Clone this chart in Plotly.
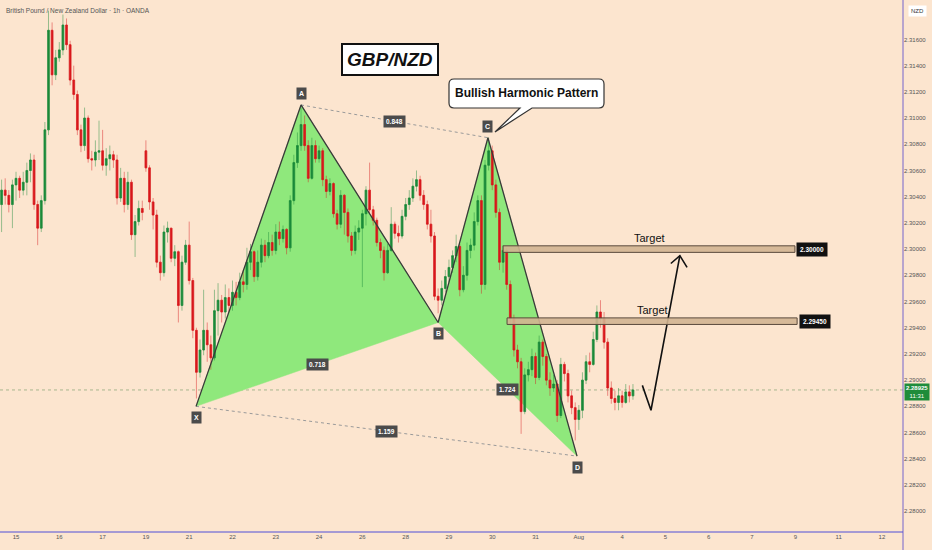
import plotly.graph_objects as go

# GBP/NZD, bars (one bar ~ 2h)
opens = [
    2.3034, 2.3045, 2.3041, 2.3034, 2.3049, 2.3054, 2.3045, 2.3051, 2.3060, 2.3068,
    2.3034, 2.3016, 2.3037, 2.3091, 2.3167, 2.3133, 2.3146, 2.3152, 2.3171, 2.3156,
    2.3129, 2.3118, 2.3091, 2.3079, 2.3100, 2.3069, 2.3068, 2.3074, 2.3075, 2.3064,
    2.3069, 2.3072, 2.3068, 2.3039, 2.3054, 2.3034, 2.3051, 2.3011, 2.3021, 2.3031,
    2.3075, 2.3062, 2.3036, 2.3026, 2.2990, 2.2982, 2.3013, 2.3016, 2.2993, 2.2998,
    2.2957, 2.2990, 2.3003, 2.2976, 2.2938, 2.2906, 2.2923, 2.2938, 2.2927, 2.2917,
    2.2953, 2.2961, 2.2952, 2.2963, 2.2957, 2.2967, 2.2963, 2.2975, 2.2973, 2.2990,
    2.2998, 2.2979, 2.2990, 2.3003, 2.2995, 2.3005, 2.2999, 2.3013, 2.3008, 2.3015,
    2.3001, 2.3037, 2.3066, 2.3079, 2.3095, 2.3079, 2.3054, 2.3079, 2.3069, 2.3075,
    2.3053, 2.3044, 2.3050, 2.3027, 2.3019, 2.3041, 2.3028, 2.3010, 2.2999, 2.3013,
    2.3016, 2.3027, 2.3045, 2.3030, 2.3022, 2.3005, 2.2999, 2.2982, 2.2999, 2.3019,
    2.3012, 2.3010, 2.3025, 2.3034, 2.3039, 2.3048, 2.3053, 2.3041, 2.3034, 2.3019,
    2.3010, 2.2964, 2.2961, 2.2970, 2.2979, 2.2986, 2.2995, 2.3002, 2.2969, 2.2980,
    2.2999, 2.3003, 2.3021, 2.3037, 2.2973, 2.3064, 2.3075, 2.3049, 2.3028, 2.2990,
    2.2999, 2.2973, 2.2947, 2.2923, 2.2914, 2.2876, 2.2904, 2.2908, 2.2918, 2.2902,
    2.2929, 2.2918, 2.2900, 2.2894, 2.2897, 2.2873, 2.2912, 2.2905, 2.2888, 2.2879,
    2.2870, 2.2877, 2.2900, 2.2914, 2.2912, 2.2931, 2.2952, 2.2947, 2.2929, 2.2894,
    2.2886, 2.2883, 2.2888, 2.2883, 2.2891, 2.2888,
]
highs = [
    2.3053, 2.3054, 2.3045, 2.3053, 2.3059, 2.3056, 2.3059, 2.3066, 2.3073, 2.3072,
    2.3037, 2.3041, 2.3097, 2.3182, 2.3173, 2.3152, 2.3158, 2.3179, 2.3176, 2.3159,
    2.3140, 2.3121, 2.3095, 2.3108, 2.3102, 2.3075, 2.3083, 2.3098, 2.3091, 2.3077,
    2.3079, 2.3075, 2.3072, 2.3062, 2.3059, 2.3059, 2.3053, 2.3026, 2.3037, 2.3037,
    2.3083, 2.3064, 2.3039, 2.3030, 2.2995, 2.3018, 2.3021, 2.3016, 2.3003, 2.2999,
    2.2995, 2.3007, 2.3021, 2.2978, 2.2940, 2.2931, 2.2969, 2.2944, 2.2934, 2.2969,
    2.2974, 2.2965, 2.2973, 2.2970, 2.2976, 2.2975, 2.2982, 2.2984, 2.3001, 2.3004,
    2.2999, 2.2999, 2.3008, 2.3007, 2.3013, 2.3011, 2.3019, 2.3021, 2.3018, 2.3016,
    2.3041, 2.3072, 2.3089, 2.3108, 2.3102, 2.3083, 2.3085, 2.3083, 2.3079, 2.3077,
    2.3056, 2.3054, 2.3051, 2.3030, 2.3045, 2.3042, 2.3031, 2.3013, 2.3018, 2.3022,
    2.3030, 2.3048, 2.3066, 2.3033, 2.3024, 2.3008, 2.3002, 2.3004, 2.3032, 2.3021,
    2.3018, 2.3030, 2.3039, 2.3045, 2.3054, 2.3060, 2.3056, 2.3045, 2.3037, 2.3030,
    2.3013, 2.2970, 2.2976, 2.2984, 2.2992, 2.2999, 2.3011, 2.3004, 2.2987, 2.3005,
    2.3008, 2.3028, 2.3041, 2.3041, 2.3068, 2.3085, 2.3079, 2.3053, 2.3031, 2.3003,
    2.3001, 2.2976, 2.2950, 2.2927, 2.2917, 2.2909, 2.2914, 2.2924, 2.2921, 2.2934,
    2.2931, 2.2920, 2.2906, 2.2904, 2.2900, 2.2917, 2.2914, 2.2908, 2.2892, 2.2883,
    2.2881, 2.2906, 2.2919, 2.2921, 2.2937, 2.2957, 2.2961, 2.2952, 2.2932, 2.2899,
    2.2892, 2.2894, 2.2892, 2.2897, 2.2896, 2.2897,
]
lows = [
    2.3013, 2.3034, 2.3028, 2.3016, 2.3037, 2.3039, 2.3041, 2.3041, 2.3051, 2.3030,
    2.3003, 2.3013, 2.3034, 2.3087, 2.3125, 2.3129, 2.3143, 2.3148, 2.3152, 2.3125,
    2.3114, 2.3087, 2.3074, 2.3075, 2.3066, 2.3060, 2.3063, 2.3068, 2.3060, 2.3056,
    2.3060, 2.3062, 2.3034, 2.3036, 2.3028, 2.3030, 2.3007, 2.2994, 2.3018, 2.3022,
    2.3059, 2.3030, 2.3015, 2.2986, 2.2976, 2.2979, 2.3005, 2.2990, 2.2987, 2.2944,
    2.2953, 2.2988, 2.2973, 2.2932, 2.2886, 2.2902, 2.2919, 2.2914, 2.2908, 2.2915,
    2.2934, 2.2944, 2.2947, 2.2952, 2.2953, 2.2957, 2.2961, 2.2967, 2.2969, 2.2984,
    2.2975, 2.2976, 2.2986, 2.2990, 2.2993, 2.2995, 2.2996, 2.3003, 2.3005, 2.2996,
    2.2998, 2.3034, 2.3062, 2.3075, 2.3075, 2.3051, 2.3053, 2.3066, 2.3066, 2.3048,
    2.3039, 2.3041, 2.3024, 2.3015, 2.3016, 2.3011, 2.3005, 2.2995, 2.2996, 2.3007,
    2.2971, 2.3018, 2.3027, 2.3018, 2.3002, 2.2993, 2.2976, 2.2981, 2.2998, 2.3008,
    2.3005, 2.3008, 2.3022, 2.3030, 2.3036, 2.3044, 2.3037, 2.3030, 2.3015, 2.3005,
    2.2961, 2.2951, 2.2957, 2.2967, 2.2975, 2.2982, 2.2990, 2.2964, 2.2967, 2.2976,
    2.2993, 2.2999, 2.3018, 2.2966, 2.2969, 2.3060, 2.3045, 2.3024, 2.2984, 2.2982,
    2.2969, 2.2942, 2.2918, 2.2909, 2.2859, 2.2874, 2.2899, 2.2903, 2.2897, 2.2900,
    2.2911, 2.2896, 2.2888, 2.2891, 2.2868, 2.2871, 2.2899, 2.2883, 2.2874, 2.2854,
    2.2862, 2.2871, 2.2897, 2.2906, 2.2911, 2.2929, 2.2940, 2.2924, 2.2888, 2.2882,
    2.2877, 2.2877, 2.2879, 2.2882, 2.2883, 2.2885,
]
closes = [
    2.3045, 2.3041, 2.3034, 2.3049, 2.3054, 2.3045, 2.3051, 2.3060, 2.3068, 2.3034,
    2.3016, 2.3037, 2.3091, 2.3167, 2.3133, 2.3146, 2.3152, 2.3171, 2.3156, 2.3129,
    2.3118, 2.3091, 2.3079, 2.3100, 2.3069, 2.3068, 2.3074, 2.3075, 2.3064, 2.3069,
    2.3072, 2.3068, 2.3039, 2.3054, 2.3034, 2.3051, 2.3011, 2.3021, 2.3031, 2.3028,
    2.3062, 2.3036, 2.3026, 2.2990, 2.2982, 2.3013, 2.3016, 2.2993, 2.2998, 2.2957,
    2.2990, 2.3003, 2.2976, 2.2938, 2.2906, 2.2923, 2.2938, 2.2927, 2.2917, 2.2953,
    2.2961, 2.2952, 2.2963, 2.2957, 2.2967, 2.2963, 2.2975, 2.2973, 2.2990, 2.2998,
    2.2979, 2.2990, 2.3003, 2.2995, 2.3005, 2.2999, 2.3013, 2.3008, 2.3015, 2.3001,
    2.3037, 2.3066, 2.3079, 2.3095, 2.3079, 2.3054, 2.3079, 2.3069, 2.3075, 2.3053,
    2.3044, 2.3050, 2.3027, 2.3019, 2.3041, 2.3028, 2.3010, 2.2999, 2.3013, 2.3016,
    2.3027, 2.3045, 2.3030, 2.3022, 2.3005, 2.2999, 2.2982, 2.2999, 2.3019, 2.3012,
    2.3010, 2.3025, 2.3034, 2.3039, 2.3048, 2.3053, 2.3041, 2.3034, 2.3019, 2.3010,
    2.2964, 2.2961, 2.2970, 2.2979, 2.2986, 2.2995, 2.3002, 2.2969, 2.2980, 2.2999,
    2.3003, 2.3021, 2.3037, 2.2973, 2.3064, 2.3075, 2.3049, 2.3028, 2.2990, 2.2999,
    2.2973, 2.2947, 2.2923, 2.2914, 2.2876, 2.2904, 2.2908, 2.2918, 2.2902, 2.2929,
    2.2918, 2.2900, 2.2894, 2.2897, 2.2873, 2.2912, 2.2905, 2.2888, 2.2879, 2.2870,
    2.2877, 2.2900, 2.2914, 2.2912, 2.2931, 2.2952, 2.2947, 2.2929, 2.2894, 2.2886,
    2.2883, 2.2888, 2.2883, 2.2891, 2.2888, 2.28925,
]
bars = list(range(len(closes)))

# day labels on the time axis (bar index of each label)
day_ticks = [4, 16, 28, 40, 52, 64, 76, 88, 100, 112, 124, 136, 148, 160,
             172, 184, 196, 208, 220, 232, 244]
day_labels = ["15", "16", "17", "19", "21", "22", "23", "24", "26", "28", "29",
              "30", "31", "Aug", "4", "5", "6", "7", "9", "11", "12"]

price_ticks = [2.280 + 0.002 * i for i in range(19)]

# harmonic pattern points X, A, B, C, D
pat_names = ["X", "A", "B", "C", "D"]
pat_bar = [53.9, 83.0, 121.0, 134.8, 159.5]
pat_price = [2.2880, 2.3110, 2.2944, 2.3085, 2.2842]

# fib ratios: (from point, to point, text)
ratios = [(1, 3, "0.848"), (0, 2, "0.718"), (0, 4, "1.159"), (2, 4, "1.724")]

# targets
target_levels = [2.30000, 2.29450]
target_from = [139.0, 140.1]
target_to = [219.9, 220.5]

# projected path drawn on the chart
proj_bar = [177.6, 180.0, 188.0]
proj_price = [2.2896, 2.2877, 2.2995]
head_bar = [185.5, 188.0, 190.0]
head_price = [2.2989, 2.2995, 2.2986]

last_time = "11:31"

BG = "#fce5cf"
GREEN = "#1b8a3a"
RED = "#d8181c"
FILL = "#8fe87c"
PLOT_W, PLOT_H = 903, 532


def paper(px, py):
    return px / PLOT_W, 1 - py / PLOT_H


def label(px, py, text, **kw):
    x, y = paper(px, py)
    return dict(xref="paper", yref="paper", x=x, y=y, xanchor="center",
                yanchor="middle", text=text, showarrow=False, **kw)


fig = go.Figure()

# dotted X-D and A-C
for a, b in ((0, 4), (1, 3)):
    fig.add_trace(go.Scatter(
        x=[pat_bar[a], pat_bar[b]], y=[pat_price[a], pat_price[b]], mode="lines",
        line=dict(color="#9a9a9a", width=1, dash="dot"), hoverinfo="skip",
        showlegend=False))

# wicks (faded)
fig.add_trace(go.Candlestick(
    x=bars, open=opens, high=highs, low=lows, close=closes,
    increasing=dict(line=dict(color="rgba(27,138,58,0.45)", width=1),
                    fillcolor="rgba(0,0,0,0)"),
    decreasing=dict(line=dict(color="rgba(216,24,28,0.45)", width=1),
                    fillcolor="rgba(0,0,0,0)"),
    hoverinfo="skip", showlegend=False))
# bodies
fig.add_trace(go.Candlestick(
    x=bars, open=opens, close=closes,
    high=[max(o, c) for o, c in zip(opens, closes)],
    low=[min(o, c) for o, c in zip(opens, closes)],
    increasing=dict(line=dict(color=GREEN, width=0.5), fillcolor=GREEN),
    decreasing=dict(line=dict(color=RED, width=0.5), fillcolor=RED),
    hoverinfo="skip", showlegend=False))

# pattern legs
fig.add_trace(go.Scatter(
    x=pat_bar, y=pat_price, mode="lines", line=dict(color="#3a3a3a", width=1.3),
    hoverinfo="skip", showlegend=False))

# projection arrow
fig.add_trace(go.Scatter(x=proj_bar, y=proj_price, mode="lines",
                         line=dict(color="#111", width=1.6), hoverinfo="skip",
                         showlegend=False))
fig.add_trace(go.Scatter(x=head_bar, y=head_price, mode="lines",
                         line=dict(color="#111", width=1.6), hoverinfo="skip",
                         showlegend=False))

shapes = []
annotations = []

# green triangles XAB and BCD, under the candles
for tri in ([0, 1, 2], [2, 3, 4]):
    path = "M " + " L ".join(f"{pat_bar[i]},{pat_price[i]}" for i in tri) + " Z"
    shapes.append(dict(type="path", xref="x", yref="y", path=path, fillcolor=FILL,
                       line=dict(width=0.5, color=FILL), layer="below"))

# last price line
shapes.append(dict(type="line", xref="paper", x0=0, x1=1, yref="y",
                   y0=closes[-1], y1=closes[-1],
                   line=dict(color="rgba(110,150,100,0.6)", width=1, dash="dot"),
                   layer="below"))

# target boxes
for lvl, x0, x1 in zip(target_levels, target_from, target_to):
    shapes.append(dict(type="rect", xref="x", yref="y", x0=x0, x1=x1,
                       y0=lvl - 0.00025, y1=lvl + 0.00025,
                       fillcolor="rgba(210,180,145,0.9)",
                       line=dict(color="#5a4a3c", width=1)))
    annotations.append(dict(x=(x0 + x1) / 2, y=lvl, yshift=11, text="Target",
                            xanchor="center", yanchor="middle", showarrow=False,
                            font=dict(size=11, color="#111")))
    annotations.append(dict(x=x1 + 0.4, y=lvl, xanchor="left", yanchor="middle",
                            text=f"<b>{lvl:.5f}</b>", showarrow=False,
                            bgcolor="#111", borderpad=3,
                            font=dict(size=6.5, color="white")))

# pattern point labels
for name, bx, py in zip(pat_names, pat_bar, pat_price):
    up = name in ("A", "C")
    annotations.append(dict(x=bx, y=py, yshift=11 if up else -11, text=f"<b>{name}</b>",
                            xanchor="center", yanchor="middle", showarrow=False,
                            bgcolor="#4b4b4b", borderpad=2,
                            font=dict(size=7, color="white")))

# ratio labels
for a, b, txt in ratios:
    annotations.append(dict(x=(pat_bar[a] + pat_bar[b]) / 2,
                            y=(pat_price[a] + pat_price[b]) / 2,
                            xanchor="center", yanchor="middle",
                            text=f"<b>{txt}</b>", showarrow=False, bgcolor="#4b4b4b",
                            borderpad=2, font=dict(size=6.5, color="white")))

# callout bubble
r = 5
bx0, by0, bx1, by1 = 449, 79, 604, 108
pts = [("M", bx0 + r, by0), ("L", bx1 - r, by0), ("Q", bx1, by0, bx1, by0 + r),
       ("L", bx1, by1 - r), ("Q", bx1, by1, bx1 - r, by1), ("L", 532, by1),
       ("L", 495, 132), ("L", 520, by1), ("L", bx0 + r, by1),
       ("Q", bx0, by1, bx0, by1 - r), ("L", bx0, by0 + r),
       ("Q", bx0, by0, bx0 + r, by0)]
path = ""
for p in pts:
    coords = []
    for i in range(1, len(p), 2):
        xx, yy = paper(p[i], p[i + 1])
        coords.append(f"{xx:.5f},{yy:.5f}")
    path += p[0] + " " + " ".join(coords) + " "
shapes.append(dict(type="path", xref="paper", yref="paper", path=path + "Z",
                   fillcolor="white", line=dict(color="#333", width=1.2)))
annotations.append(label((bx0 + bx1) / 2, (by0 + by1) / 2,
                         "<b>Bullish Harmonic Pattern</b>",
                         font=dict(size=12, color="#111")))

# title box
annotations.append(label(390, 60, "<b><i>GBP/NZD</i></b>", bgcolor="white",
                         bordercolor="#111", borderwidth=2, borderpad=4,
                         font=dict(size=19, color="#111")))

# symbol header
hx, hy = paper(4, 10)
annotations.append(dict(xref="paper", yref="paper", x=hx, y=hy, xanchor="left",
                        yanchor="middle",
                        text="British Pound / New Zealand Dollar · 1h · OANDA",
                        showarrow=False, font=dict(size=6.5, color="#555")))

# currency box + last price tag on the price scale
annotations.append(label(917, 11, "NZD", bgcolor="white", borderpad=2,
                         font=dict(size=6, color="#333")))
nx, _ = paper(917, 0)
annotations.append(dict(xref="paper", yref="y", x=nx, y=closes[-1], yshift=-2,
                        xanchor="center", yanchor="middle",
                        text=f"<b>{closes[-1]:.5f}</b><br>{last_time}",
                        showarrow=False, bgcolor="#1e8c3a", borderpad=1,
                        font=dict(size=6, color="white")))

# axis border lines
shapes.append(dict(type="line", xref="paper", yref="paper", x0=1, x1=1, y0=-0.04,
                   y1=1, line=dict(color="#7565cc", width=1)))
shapes.append(dict(type="line", xref="paper", yref="paper", x0=0, x1=1, y0=0,
                   y1=0, line=dict(color="#4f4fd8", width=1)))

fig.update_layout(
    width=932, height=550,
    margin=dict(l=0, r=29, t=0, b=18),
    paper_bgcolor=BG, plot_bgcolor=BG,
    font=dict(family="Liberation Sans, Arial, sans-serif"),
    showlegend=False,
    shapes=shapes, annotations=annotations,
    xaxis=dict(range=[-0.44, 249.85], tickvals=day_ticks, ticktext=day_labels,
               showgrid=False, zeroline=False, ticks="", fixedrange=True,
               tickfont=dict(size=6, color="#555"),
               rangeslider=dict(visible=False)),
    yaxis=dict(range=[2.27841, 2.31901], side="right", tickvals=price_ticks,
               ticktext=[f"{v:.5f}" for v in price_ticks],
               showgrid=False, zeroline=False, ticks="", fixedrange=True,
               tickfont=dict(size=6, color="#555"), automargin=False),
)

# drop the page's default body margin so the figure fills the window
fig.write_html("out.html", config={"displayModeBar": False},
               post_script="document.body.style.margin='0';")
